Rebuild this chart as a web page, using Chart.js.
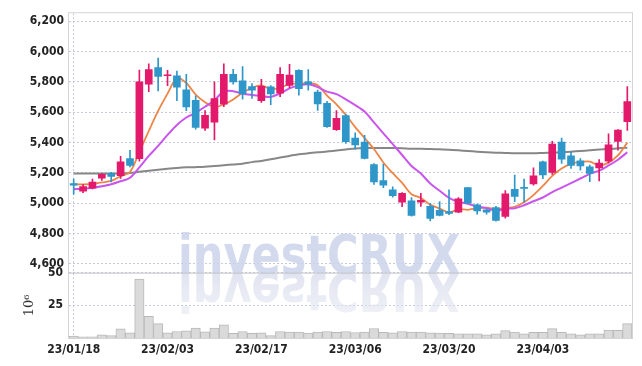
<!DOCTYPE html>
<html>
<head>
<meta charset="utf-8">
<script src="https://cdn.jsdelivr.net/npm/chart.js@4.4.0/dist/chart.umd.min.js"></script>
<style>
  html, body { margin: 0; padding: 0; background: #fff; }
</style>
</head>
<body>
<canvas id="stockChart" width="642" height="366"></canvas>
<script>
const dates = [
  "23/01/18","23/01/19","23/01/20","23/01/25","23/01/26","23/01/27","23/01/30","23/01/31","23/02/01","23/02/02",
  "23/02/03","23/02/06","23/02/07","23/02/08","23/02/09","23/02/10","23/02/13","23/02/14","23/02/15","23/02/16",
  "23/02/17","23/02/20","23/02/21","23/02/22","23/02/23","23/02/24","23/02/27","23/02/28","23/03/02","23/03/03",
  "23/03/06","23/03/07","23/03/08","23/03/09","23/03/10","23/03/13","23/03/14","23/03/15","23/03/16","23/03/17",
  "23/03/20","23/03/21","23/03/22","23/03/23","23/03/24","23/03/27","23/03/28","23/03/29","23/03/30","23/03/31",
  "23/04/03","23/04/04","23/04/05","23/04/06","23/04/07","23/04/10","23/04/11","23/04/12","23/04/13","23/04/14"
];

const opens = [
  5130, 5080, 5100, 5165, 5196, 5181, 5294, 5294, 5784, 5893,
  5840, 5839, 5747, 5678, 5495, 5534, 5653, 5849, 5806, 5769,
  5676, 5767, 5725, 5777, 5875, 5800, 5732, 5658, 5484, 5578,
  5429, 5403, 5255, 5149, 5088, 5007, 5016, 5007, 4979, 4953,
  4946, 4941, 5103, 4990, 4957, 4972, 4913, 5092, 5102, 5127,
  5273, 5203, 5403, 5312, 5279, 5240, 5233, 5277, 5408, 5538
];
const highs = [
  5160, 5125, 5160, 5195, 5203, 5310, 5349, 5878, 5919, 5956,
  5875, 5871, 5849, 5708, 5610, 5800, 5919, 5882, 5900, 5789,
  5817, 5775, 5893, 5915, 5880, 5880, 5745, 5671, 5610, 5585,
  5464, 5447, 5262, 5258, 5109, 5070, 5037, 5066, 5000, 5011,
  5088, 5037, 5105, 4994, 4962, 4979, 5083, 5186, 5160, 5233,
  5278, 5408, 5429, 5338, 5294, 5251, 5288, 5457, 5485, 5768
];
const lows = [
  5060, 5070, 5095, 5150, 5140, 5164, 5240, 5277, 5735, 5740,
  5775, 5676, 5610, 5488, 5480, 5418, 5636, 5784, 5686, 5691,
  5664, 5650, 5702, 5762, 5712, 5745, 5612, 5500, 5480, 5395,
  5357, 5292, 5124, 5103, 5040, 4977, 4915, 4979, 4883, 4916,
  4925, 4938, 4998, 4928, 4928, 4882, 4902, 5011, 5005, 5120,
  5162, 5190, 5262, 5229, 5218, 5142, 5147, 5266, 5350, 5480
];
const closes = [
  5120, 5110, 5140, 5190, 5177, 5273, 5250, 5800, 5880, 5835,
  5845, 5765, 5635, 5500, 5580, 5690, 5850, 5800, 5720, 5745,
  5770, 5720, 5850, 5845, 5755, 5785, 5655, 5505, 5560, 5405,
  5385, 5295, 5140, 5120, 5050, 5065, 4920, 5020, 4900, 4920,
  4933, 5030, 5000, 4950, 4942, 4887, 5062, 5045, 5098, 5180,
  5186, 5390, 5290, 5250, 5246, 5196, 5265, 5385, 5482, 5670
];

const ma5 = [
  5125, 5124, 5127, 5137, 5147, 5178, 5206, 5338, 5476, 5608,
  5722, 5825, 5792, 5716, 5665, 5634, 5651, 5684, 5728, 5761,
  5777, 5751, 5761, 5786, 5788, 5791, 5778, 5709, 5652, 5582,
  5502, 5430, 5357, 5269, 5198, 5134, 5059, 5035, 4991, 4965,
  4939, 4961, 4957, 4967, 4971, 4962, 4968, 4977, 5007, 5054,
  5114, 5180, 5229, 5259, 5272, 5274, 5249, 5268, 5315, 5400
];
const ma10 = [
  5092, 5096, 5102, 5112, 5125, 5145, 5168, 5236, 5312, 5378,
  5450, 5516, 5565, 5596, 5636, 5678, 5738, 5738, 5722, 5713,
  5706, 5701, 5723, 5757, 5775, 5784, 5765, 5735, 5719, 5685,
  5647, 5604, 5533, 5461, 5390, 5318, 5245, 5196, 5130, 5082,
  5036, 5010, 4996, 4979, 4968, 4950, 4964, 4967, 4987, 5013,
  5038, 5074, 5103, 5133, 5163, 5194, 5215, 5249, 5287, 5336
];
const maLong = [
  5196, 5196, 5196, 5196, 5196, 5197, 5199, 5207, 5214, 5220,
  5227, 5233, 5237, 5238, 5240, 5245, 5250, 5256, 5261, 5271,
  5279, 5290, 5301, 5312, 5323, 5329, 5336, 5341, 5348, 5354,
  5361, 5364, 5364, 5364, 5364, 5362, 5359, 5359, 5357, 5355,
  5353, 5349, 5344, 5340, 5336, 5333, 5331, 5329, 5329, 5329,
  5331, 5333, 5336, 5340, 5344, 5349, 5354, 5357, 5362, 5366
];

const volumes = [
  1.5, 0.8, 0.8, 2.5, 1.8, 7, 4, 45, 16.5, 11,
  4, 5, 5.5, 7.5, 4.8, 7.5, 10, 3.5, 5, 3.5,
  4, 1.8, 5, 4.5, 4.5, 3.8, 4.5, 5, 4.3, 5,
  4.2, 4.5, 7.3, 4.3, 4, 5, 4.5, 4.6, 4, 3.7,
  3.5, 3.2, 3.2, 3.2, 2.5, 3.2, 5.6, 4.6, 3.2, 4.3,
  4.3, 7.2, 4.3, 3.2, 2.5, 3.2, 3.2, 6, 5.8, 11
];

const UP = "#e3196b";
const DOWN = "#2f96c9";
const candleColors = closes.map((c, i) => c >= opens[i] ? UP : DOWN);
const bodies = opens.map((o, i) => [o, closes[i]]);
const wicks = lows.map((l, i) => [l, highs[i]]);

const tickFont = {
  family: "'DejaVu Sans Condensed','Liberation Sans Narrow','DejaVu Sans',sans-serif",
  size: 12,
  weight: "bold"
};
const gridColor = "#c6c9db";

// watermark + frame
const decor = {
  id: "decor",
  beforeDatasetsDraw(chart) {
    const ctx = chart.ctx;
    const a = chart.chartArea;
    const split = chart.scales.yv.top;

    ctx.save();
    ctx.font = "bold 54px 'DejaVu Sans', sans-serif";
    const txt = "investCRUX";
    const sx = 282 / ctx.measureText(txt).width;
    ctx.translate(178, split);
    ctx.scale(sx, 1);
    ctx.textBaseline = "alphabetic";
    ctx.fillStyle = "rgba(205,211,234,0.85)";
    ctx.fillText(txt, 0, 0);
    ctx.scale(1, -1);
    const g = ctx.createLinearGradient(0, 0, 0, -42);
    g.addColorStop(0, "rgba(214,218,236,0.75)");
    g.addColorStop(1, "rgba(226,229,240,0.55)");
    ctx.fillStyle = g;
    ctx.fillText(txt, 0, 0);
    ctx.restore();

    ctx.save();
    ctx.strokeStyle = "#d4d4d8";
    ctx.lineWidth = 1;
    ctx.strokeRect(a.left - 0.5, a.top - 0.5, a.right - a.left + 1, a.bottom - a.top + 1);
    ctx.strokeStyle = "#c4c4c8";
    ctx.beginPath();
    ctx.moveTo(a.left, split + 0.5);
    ctx.lineTo(a.right, split + 0.5);
    ctx.stroke();
    ctx.restore();
  }
};

new Chart(document.getElementById("stockChart"), {
  type: "bar",
  data: {
    labels: dates,
    datasets: [
      {
        type: "line", label: "MA120", data: maLong, yAxisID: "y",
        borderColor: "#878787", borderWidth: 2, pointRadius: 0, tension: 0.3, order: 3
      },
      {
        type: "line", label: "MA10", data: ma10, yAxisID: "y",
        borderColor: "#c955ec", borderWidth: 2, pointRadius: 0, tension: 0.3, order: 2
      },
      {
        type: "line", label: "MA5", data: ma5, yAxisID: "y",
        borderColor: "#ef8447", borderWidth: 1.8, pointRadius: 0, tension: 0.3, order: 2
      },
      {
        label: "wick", data: wicks, yAxisID: "y", grouped: false,
        backgroundColor: candleColors, barThickness: 1, order: 1
      },
      {
        label: "body", data: bodies, yAxisID: "y", grouped: false,
        backgroundColor: candleColors, barThickness: 7, minBarLength: 1, order: 0
      },
      {
        label: "volume", data: volumes, yAxisID: "yv", grouped: false,
        backgroundColor: "#dadada", borderColor: "#b9b9b9", borderWidth: 1,
        barPercentage: 1, categoryPercentage: 1, order: 4
      }
    ]
  },
  options: {
    responsive: false,
    animation: false,
    layout: { padding: { top: 10, right: 10, left: 0, bottom: 0 } },
    plugins: { legend: { display: false }, tooltip: { enabled: false } },
    scales: {
      x: {
        offset: true,
        grid: {
          offset: false, drawTicks: false,
          color: (c) => (c.index % 10 === 0 ? gridColor : "transparent")
        },
        border: { display: false, dash: [2, 2] },
        ticks: {
          autoSkip: false, maxRotation: 0, padding: 5,
          color: "#222", font: tickFont,
          callback: (v, i) => (i % 10 === 0 ? dates[i] : null)
        },
        afterFit: (s) => { s.height = 28; }
      },
      yv: {
        position: "left", stack: "panes", stackWeight: 66,
        min: 0, max: 50,
        grid: { drawTicks: false, color: gridColor },
        border: { display: false, dash: [2, 2] },
        title: {
          display: true, text: "10\u2076", color: "#333",
          font: { family: "'DejaVu Serif', serif", size: 13 },
          padding: { top: 22, bottom: 0 }
        },
        ticks: {
          stepSize: 25, padding: 6, color: "#222", font: tickFont,
          callback: (v) => (v === 0 ? null : v)
        },
        afterFit: (s) => { s.width = 69; }
      },
      y: {
        position: "left", stack: "panes", stackWeight: 262,
        min: 4543, max: 6252,
        grid: { drawTicks: false, color: gridColor },
        border: { display: false, dash: [2, 2] },
        ticks: {
          stepSize: 200, includeBounds: false, padding: 5, color: "#222", font: tickFont,
          callback: (v) => (v % 200 === 0 ? v.toLocaleString("en-US") : null)
        },
        afterFit: (s) => { s.width = 69; }
      }
    }
  },
  plugins: [decor]
});
</script>
</body>
</html>
